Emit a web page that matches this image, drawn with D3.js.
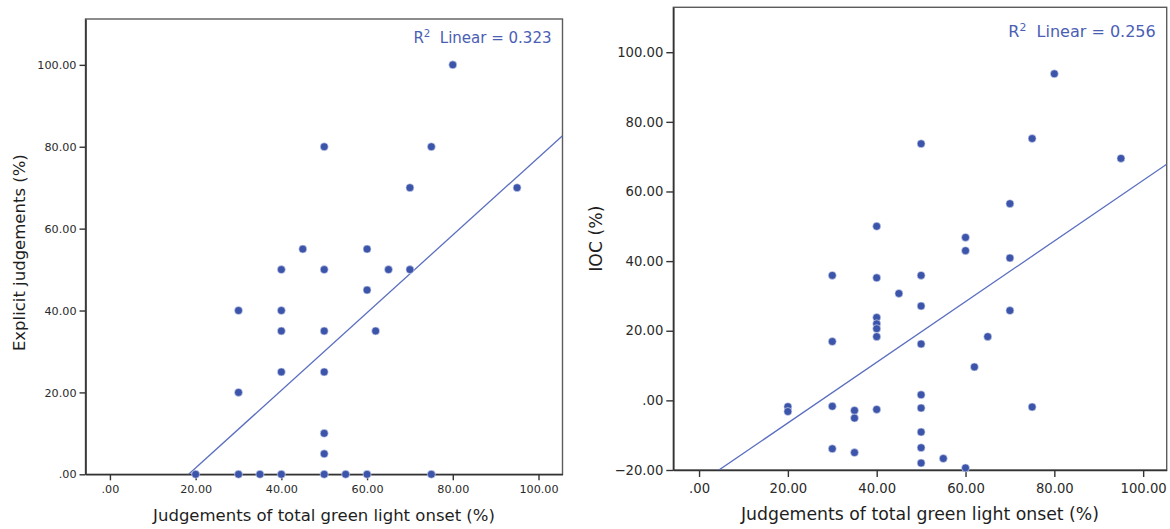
<!DOCTYPE html>
<html>
<head>
<meta charset="utf-8">
<script src="https://cdn.jsdelivr.net/npm/d3@7"></script>
<style>
  html, body { margin: 0; background: #fff; }
  svg { display: block; }
</style>
</head>
<body>
<svg id="chart" width="1170" height="529"></svg>
<script>
// Shared x variable
const xTitle = "Judgements of total green light onset (%)";
const xTicks = [0, 20, 40, 60, 80, 100];

// Panel 1: explicit judgements vs. onset judgements
const explicitOnset     = [20, 30, 35, 40, 50, 55, 60, 75, 50, 50, 30, 40, 50, 40, 50, 62, 30, 40, 60, 40, 50, 65, 70, 45, 60, 50, 75, 70, 95, 80];
const explicitJudgement = [ 0,  0,  0,  0,  0,  0,  0,  0,  5, 10, 20, 25, 25, 35, 35, 35, 40, 40, 45, 50, 50, 50, 50, 55, 55, 80, 80, 70, 70, 100];
const explicitFit = [-17.4, 0.948];   // intercept, slope
const explicitR2 = "0.323";
const explicitYTicks = [0, 20, 40, 60, 80, 100];
const explicitYTitle = "Explicit judgements (%)";

// Panel 2: IOC vs. onset judgements
const iocOnset = [20, 20, 30, 30, 30, 30, 35, 35, 35, 40, 40, 40, 40, 40, 40, 40, 45, 50, 50, 50, 50, 50, 50, 50, 50, 50, 55, 60, 60, 60, 62, 65, 70, 70, 70, 75, 75, 80, 95];
const iocValue = [-1.8, -3.2, 35.9, 16.9, -1.7, -13.9, -2.9, -5.1, -15.0, 50.0, 35.2, 23.8, 22.0, 20.6, 18.3, -2.6, 30.7, 73.7, 35.9, 27.1, 16.2, 1.6, -2.2, -9.1, -13.6, -18.0, -16.7, 46.8, 43.0, -19.4, 9.6, 18.3, 56.5, 40.9, 25.8, 75.2, -1.9, 93.8, 69.5];
const iocFit = [-23.9, 0.871];
const iocR2 = "0.256";
const iocYTicks = [-20, 0, 20, 40, 60, 80, 100];
const iocYTitle = "IOC (%)";

const FONT = "'DejaVu Sans', 'Liberation Sans', sans-serif";
const BLUE_DOT = "#3c55aa";
const BLUE_LINE = "#5b6fc0";
const BLUE_TEXT = "#4a5eb4";

// SPSS-style numbers: 0 -> ".00", 20 -> "20.00"
const fmt = v => d3.format(".2f")(v).replace(/^(-?)0\./, "$1.");

const svg = d3.select("#chart");

function drawPanel(cfg) {
  const g = svg.append("g");
  const x = d3.scaleLinear().domain(cfg.xDomain).range([cfg.left, cfg.right]);
  const y = d3.scaleLinear().domain(cfg.yDomain).range([cfg.bottom, cfg.top]);

  // plot frame
  g.append("rect")
    .attr("x", cfg.left).attr("y", cfg.top)
    .attr("width", cfg.right - cfg.left).attr("height", cfg.bottom - cfg.top)
    .attr("fill", "none").attr("stroke", "#5c5c5c").attr("stroke-width", 1.4);

  const styleAxis = sel => {
    sel.select(".domain").attr("stroke", "#333").attr("stroke-width", 1.6);
    sel.selectAll(".tick line").attr("stroke", "#333").attr("stroke-width", 1.4);
    sel.selectAll(".tick text").attr("fill", "#2a2a2a")
      .style("font-family", FONT).style("font-size", cfg.tickFont + "px");
  };

  g.append("g")
    .attr("transform", `translate(0,${cfg.bottom})`)
    .call(d3.axisBottom(x).tickValues(xTicks).tickFormat(fmt)
      .tickSize(cfg.tick).tickSizeOuter(0).tickPadding(cfg.xPad))
    .call(styleAxis);

  g.append("g")
    .attr("transform", `translate(${cfg.left},0)`)
    .call(d3.axisLeft(y).tickValues(cfg.yTicks).tickFormat(fmt)
      .tickSize(cfg.tick).tickSizeOuter(0).tickPadding(cfg.yPad))
    .call(styleAxis);

  // clip region for the fit line
  const clipId = "clip-" + cfg.id;
  g.append("clipPath").attr("id", clipId)
    .append("rect")
    .attr("x", cfg.left).attr("y", cfg.top)
    .attr("width", cfg.right - cfg.left).attr("height", cfg.bottom - cfg.top);

  const [b0, b1] = cfg.fit;
  const fitLine = d3.line().x(d => x(d)).y(d => y(b0 + b1 * d));
  g.append("path")
    .datum(cfg.xDomain)
    .attr("clip-path", `url(#${clipId})`)
    .attr("d", fitLine)
    .attr("fill", "none").attr("stroke", BLUE_LINE).attr("stroke-width", 1.3);

  // scatter points
  g.append("g").selectAll("circle")
    .data(d3.range(cfg.xs.length))
    .join("circle")
    .attr("cx", i => x(cfg.xs[i]))
    .attr("cy", i => y(cfg.ys[i]))
    .attr("r", 4)
    .attr("fill", BLUE_DOT)
    .attr("stroke", "#dfe4f3").attr("stroke-width", 0.6);

  // R² annotation
  const r2 = g.append("text")
    .attr("x", cfg.right - cfg.r2Inset).attr("y", cfg.r2Y)
    .attr("text-anchor", "end")
    .attr("fill", BLUE_TEXT)
    .style("font-family", FONT).style("font-size", cfg.r2Font + "px");
  r2.append("tspan").text("R");
  r2.append("tspan").attr("dy", -cfg.r2Font * 0.38).style("font-size", (cfg.r2Font * 0.68) + "px").text("2");
  r2.append("tspan").attr("dy", cfg.r2Font * 0.38).text("\u00a0 Linear = " + cfg.r2);

  // axis titles
  g.append("text")
    .attr("x", (cfg.left + cfg.right) / 2).attr("y", cfg.xTitleY)
    .attr("text-anchor", "middle").attr("fill", "#1e1e1e")
    .style("font-family", FONT).style("font-size", cfg.titleFont + "px")
    .text(xTitle);

  g.append("text")
    .attr("transform", `translate(${cfg.yTitleX},${(cfg.top + cfg.bottom) / 2 + cfg.yTitleShift}) rotate(-90)`)
    .attr("text-anchor", "middle").attr("fill", "#1e1e1e")
    .style("font-family", FONT).style("font-size", cfg.titleFont + "px")
    .text(cfg.yTitle);
}

drawPanel({
  id: "explicit",
  left: 85.5, right: 562.5, top: 19, bottom: 474.3,
  xDomain: [-5.7, 105.6], yDomain: [0, 111.2],
  yTicks: explicitYTicks, xs: explicitOnset, ys: explicitJudgement,
  fit: explicitFit, r2: explicitR2,
  tick: 6, xPad: 5, yPad: 3, tickFont: 11.2,
  r2Inset: 11, r2Y: 43, r2Font: 15,
  titleFont: 16.5, xTitleY: 521, yTitleX: 25, yTitleShift: 6, yTitle: explicitYTitle
});

drawPanel({
  id: "ioc",
  left: 673.3, right: 1166.7, top: 7.3, bottom: 470,
  xDomain: [-5.8, 105.3], yDomain: [-20, 112.9],
  yTicks: iocYTicks, xs: iocOnset, ys: iocValue,
  fit: iocFit, r2: iocR2,
  tick: 7, xPad: 6.5, yPad: 3, tickFont: 13.2,
  r2Inset: 11, r2Y: 37, r2Font: 16,
  titleFont: 17.3, xTitleY: 520, yTitleX: 602, yTitleShift: 0, yTitle: iocYTitle
});
</script>
</body>
</html>
